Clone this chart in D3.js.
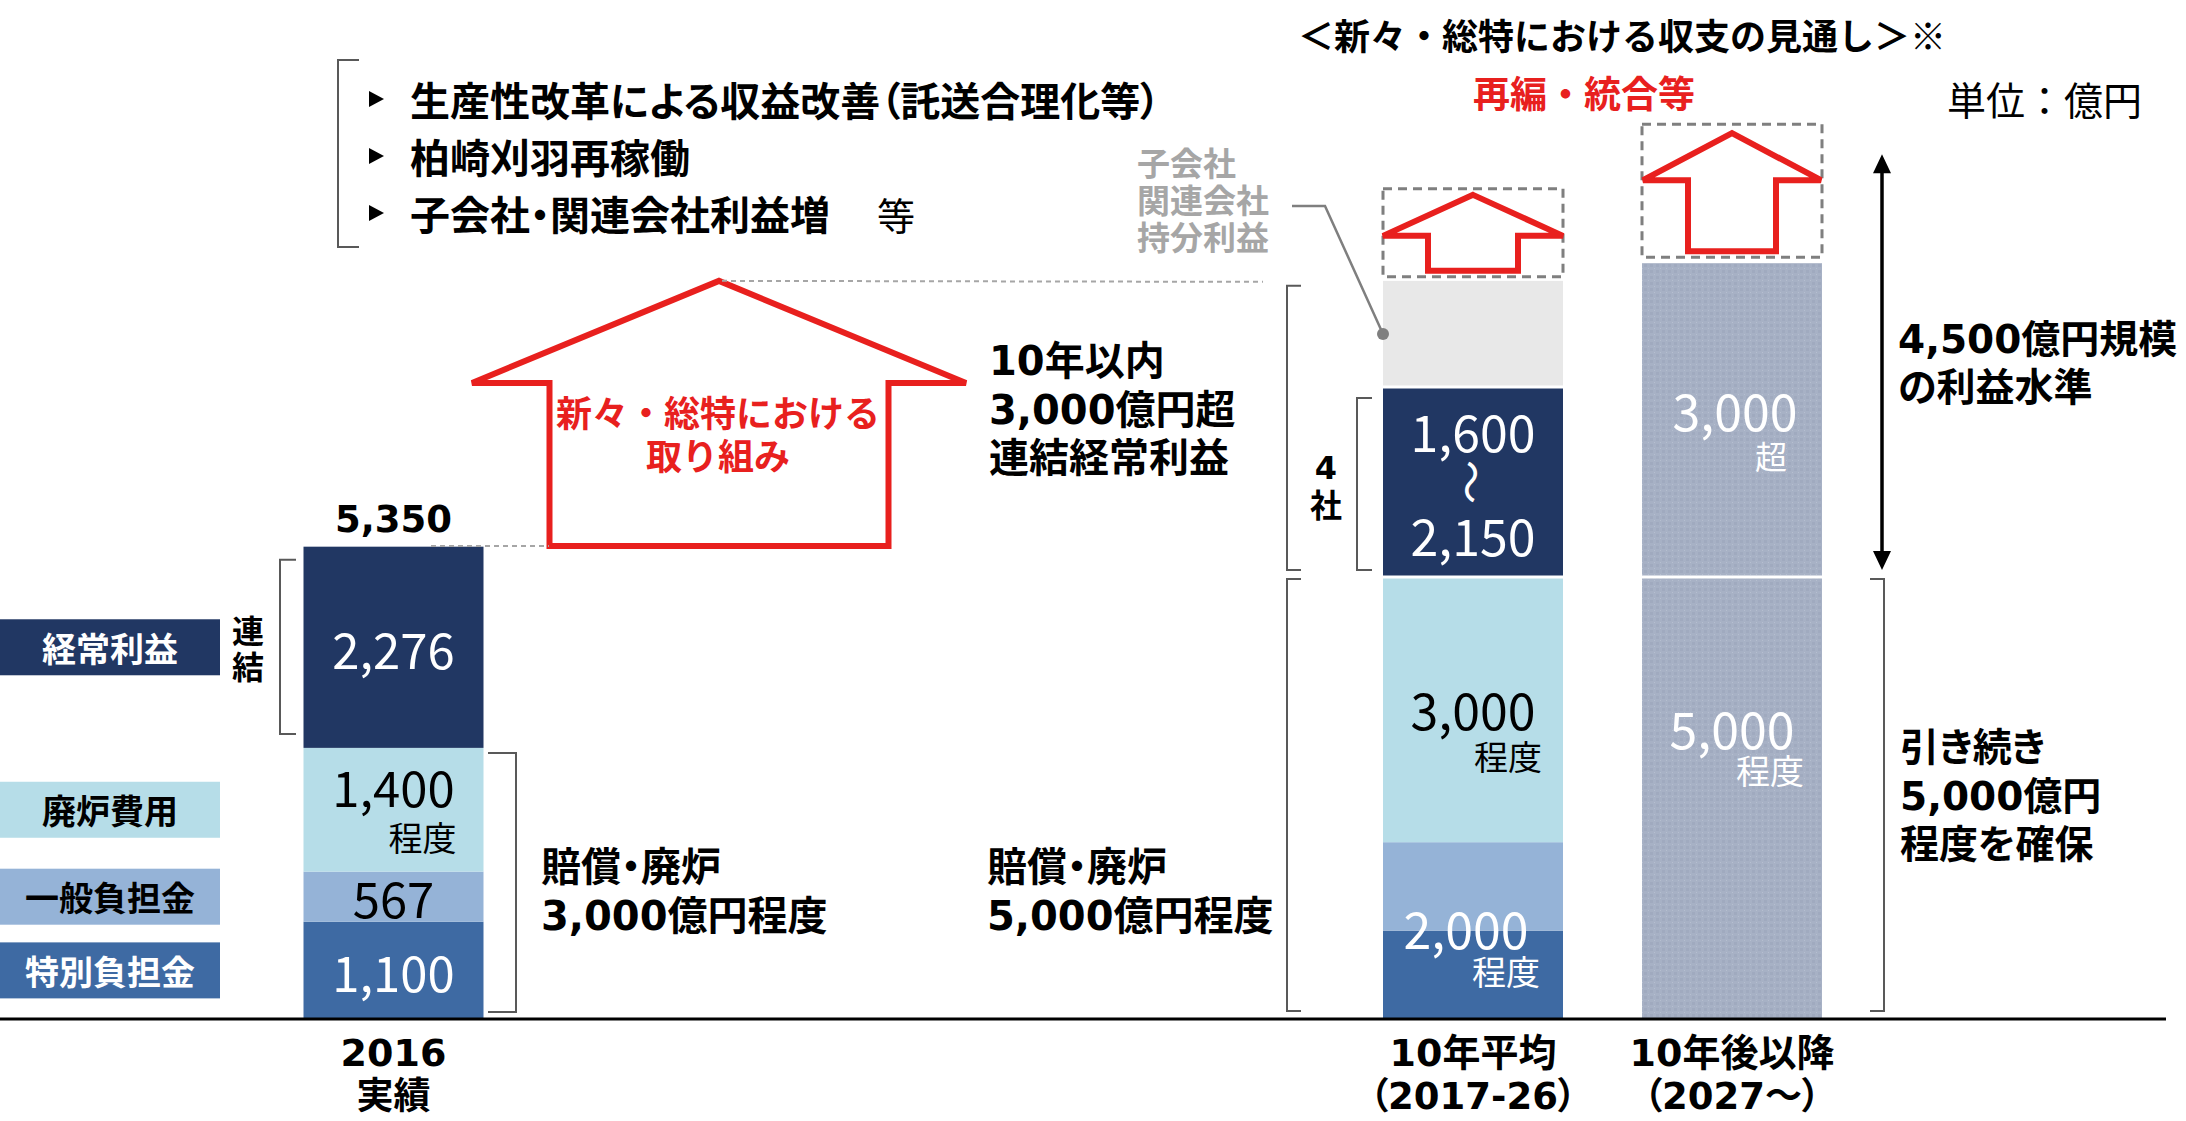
<!DOCTYPE html>
<html>
<head>
<meta charset="utf-8">
<script src="https://cdn.jsdelivr.net/npm/d3@7"></script>
<style>
  body { margin: 0; background: #fff; }
  svg { display: block; font-family: "Noto Sans CJK JP", "Noto Sans", sans-serif; }
  .lat { font-family: "DejaVu Sans", "Noto Sans CJK JP", sans-serif; }
  .palt { font-feature-settings: "palt"; }
</style>
</head>
<body>
<svg id="chart" width="2186" height="1121"></svg>
<script>
// ---- data (億円) ----
const categories = ["2016", "10年平均", "10年後以降"];
const categorySub = ["実績", "（2017-26）", "（2027～）"];

const segments2016 = ["特別負担金", "一般負担金", "廃炉費用", "経常利益"];
const values2016 = [1100, 567, 1400, 2276];
const total2016 = 5350;

// 10年平均: 2,000程度 (特別+一般, split by eye), 3,000程度, 4社 1,600～2,150, 持分利益 (no label, estimated)
const segmentsAvg = ["特別負担金", "一般負担金", "廃炉費用", "経常利益", "持分利益"];
const valuesAvg = [1000, 1000, 3000, 2150, 1200];
const avgRange = ["1,600", "2,150"];

// 10年後以降: 5,000程度 / 3,000超 (height)
const segmentsAfter = ["賠償・廃炉", "利益"];
const valuesAfter = [5000, 3550];

const bulletItems = ["生産性改革による収益改善（託送合理化等）", "柏崎刈羽再稼働", "子会社・関連会社利益増"];

// ---- setup ----
const svg = d3.select("#chart");
const y = d3.scaleLinear().domain([0, 10000]).range([1019, 135]);
const x = d3.scaleOrdinal().domain(categories).range([393.5, 1473, 1732]);
const barW = 180;
const red = "#e8201e";

const fill = d3.scaleOrdinal()
  .domain(["特別負担金", "一般負担金", "廃炉費用", "経常利益", "持分利益", "賠償・廃炉", "利益"])
  .range(["#3e6aa3", "#95b3d7", "#b6dde8", "#213763", "#e8e8e8", "url(#tex)", "url(#tex)"]);

const defs = svg.append("defs");
const pat = defs.append("pattern").attr("id", "tex")
  .attr("width", 6).attr("height", 6).attr("patternUnits", "userSpaceOnUse");
pat.append("rect").attr("width", 6).attr("height", 6).attr("fill", "#a7b1c5");
pat.append("rect").attr("width", 3).attr("height", 3).attr("fill", "#a0aabf");
pat.append("rect").attr("x", 4).attr("y", 4).attr("width", 1).attr("height", 1).attr("fill", "#b6bfd0");

const bars = [
  { cat: categories[0], keys: segments2016, values: values2016, sep: [] },
  { cat: categories[1], keys: segmentsAvg, values: valuesAvg, sep: [2, 3] },
  { cat: categories[2], keys: segmentsAfter, values: valuesAfter, sep: [0] }
];

// stacked extents
bars.forEach(b => {
  const ends = d3.cumsum(b.values);
  b.lo = b.values.map((v, i) => i ? ends[i - 1] : 0);
  b.hi = Array.from(ends);
  b.top = ends[ends.length - 1];
});
function mid(b, i0, i1) { return (y(b.lo[i0]) + y(b.hi[i1])) / 2; }

// ---- bars ----
bars.forEach(b => {
  const cx = x(b.cat);
  svg.append("g").selectAll("rect")
    .data(b.values)
    .join("rect")
    .attr("x", cx - barW / 2)
    .attr("y", (d, i) => y(b.hi[i]))
    .attr("width", barW)
    .attr("height", (d, i) => y(b.lo[i]) - y(b.hi[i]))
    .attr("fill", (d, i) => fill(b.keys[i]));
  b.sep.forEach(i => {
    svg.append("line")
      .attr("x1", cx - barW / 2).attr("x2", cx + barW / 2)
      .attr("y1", y(b.hi[i])).attr("y2", y(b.hi[i]))
      .attr("stroke", "#fff").attr("stroke-width", 3);
  });
});

// baseline
svg.append("line").attr("x1", 0).attr("x2", 2166).attr("y1", y(0)).attr("y2", y(0))
  .attr("stroke", "#000").attr("stroke-width", 3);

// ---- helpers ----
function txt(s, tx, ty, o = {}) {
  return svg.append("text")
    .attr("class", o.cls || null)
    .attr("x", tx).attr("y", ty)
    .attr("text-anchor", o.anchor || "start")
    .attr("dominant-baseline", "central")
    .attr("font-size", o.size || 40)
    .attr("font-weight", o.weight || 700)
    .attr("fill", o.color || "#000")
    .text(s);
}
function bracket(bx, y0, y1, len) {
  svg.append("path")
    .attr("d", `M${bx + len},${y0}H${bx}V${y1}H${bx + len}`)
    .attr("fill", "none").attr("stroke", "#595959").attr("stroke-width", 2);
}
function upArrow(cx, tipY, headY, botY, halfW, halfS, sw) {
  svg.append("path")
    .attr("d", `M${cx},${tipY}L${cx + halfW},${headY}H${cx + halfS}V${botY}H${cx - halfS}V${headY}H${cx - halfW}Z`)
    .attr("fill", "#fff").attr("stroke", red).attr("stroke-width", sw).attr("stroke-linejoin", "miter");
}
const L = "lat palt";

// ---- legend boxes (left) ----
const b16 = bars[0];
segments2016.forEach((k, i) => {
  const cy = mid(b16, i, i);
  svg.append("rect").attr("x", 0).attr("y", cy - 28).attr("width", 220).attr("height", 56).attr("fill", fill(k));
  const dark = (k === "経常利益" || k === "特別負担金");
  txt(k, 110, cy, { anchor: "middle", size: 34, color: dark ? "#fff" : "#000" });
});

// ---- 2016 bar labels ----
const c16 = x(categories[0]);
txt("2,276", c16, mid(b16, 3, 3), { anchor: "middle", size: 49, weight: 400, color: "#fff" });
txt("1,400", c16, mid(b16, 2, 2) - 24, { anchor: "middle", size: 49, weight: 400 });
txt("程度", c16 + 63, mid(b16, 2, 2) + 27, { anchor: "end", size: 34, weight: 400 });
txt("567", c16, mid(b16, 1, 1), { anchor: "middle", size: 49, weight: 400 });
txt("1,100", c16, mid(b16, 0, 0), { anchor: "middle", size: 49, weight: 400, color: "#fff" });
txt(d3.format(",")(total2016), c16, y(total2016) - 27, { anchor: "middle", size: 37, cls: "lat" });

// 連結 bracket
bracket(280, y(b16.hi[3]) + 13, y(b16.lo[3]) - 14, 16);
txt("連", 248, mid(b16, 3, 3) - 18, { anchor: "middle", size: 32 });
txt("結", 248, mid(b16, 3, 3) + 18, { anchor: "middle", size: 32 });
// 賠償・廃炉 bracket (2016)
bracket(516, y(b16.hi[2]) + 5, y(0) - 7, -28);
txt("賠償・廃炉", 541, 867, { cls: L });
txt("3,000億円程度", 541, 916, { cls: L });

// ---- big arrow ----
const bAvg = bars[1];
const avgTop = y(bAvg.top);
upArrow(719, avgTop, 383, y(total2016), 247, 169.5, 6);
txt("新々・総特における", 718, 411, { anchor: "middle", size: 36, color: red });
txt("取り組み", 718, 454, { anchor: "middle", size: 36, color: red });
svg.append("line").attr("x1", 431).attr("x2", 549).attr("y1", y(total2016)).attr("y2", y(total2016))
  .attr("stroke", "#a6a6a6").attr("stroke-width", 2).attr("stroke-dasharray", "5,4");
svg.append("line").attr("x1", 722).attr("x2", 1263).attr("y1", avgTop).attr("y2", avgTop + 1)
  .attr("stroke", "#a6a6a6").attr("stroke-width", 2).attr("stroke-dasharray", "5,4");

txt("10年以内", 989, 361, { cls: L });
txt("3,000億円超", 989, 410, { cls: L });
txt("連結経常利益", 989, 458, { cls: L });
txt("賠償・廃炉", 987, 867, { cls: L });
txt("5,000億円程度", 987, 916, { cls: L });

// ---- bullets ----
bracket(338, 60, 247, 21);
bulletItems.forEach((s, i) => {
  const cy = 99 + i * 57;
  svg.append("path").attr("d", `M369,${cy - 8}L384,${cy}L369,${cy + 8}Z`).attr("fill", "#000");
  txt(s, 410, cy, { size: 40, cls: "palt" });
});
txt("等", 877, 213, { size: 38, weight: 400 });

// ---- 10年平均 bar labels ----
const cAvg = x(categories[1]);
const navyMid = mid(bAvg, 3, 3);
txt(avgRange[0], cAvg, navyMid - 52, { anchor: "middle", size: 50, weight: 400, color: "#fff" });
txt("～", cAvg, navyMid, { anchor: "middle", size: 44, weight: 400, color: "#fff" })
  .attr("transform", `rotate(90,${cAvg},${navyMid})`);
txt(avgRange[1], cAvg, navyMid + 52, { anchor: "middle", size: 50, weight: 400, color: "#fff" });
txt("3,000", cAvg, mid(bAvg, 2, 2) - 2, { anchor: "middle", size: 50, weight: 400 });
txt("程度", cAvg + 69, mid(bAvg, 2, 2) + 46, { anchor: "end", size: 34, weight: 400 });
txt("2,000", cAvg - 7, mid(bAvg, 0, 1) - 4, { anchor: "middle", size: 50, weight: 400, color: "#fff" });
txt("程度", cAvg + 67, mid(bAvg, 0, 1) + 40, { anchor: "end", size: 34, weight: 400, color: "#fff" });

// brackets around 10年平均
bracket(1287, avgTop + 5, y(5000) - 7, 14);
bracket(1287, y(5000) + 2, y(0) - 8, 14);
bracket(1357, y(bAvg.hi[3]) + 11, y(5000) - 7, 15);
txt("4", 1326, navyMid - 14, { anchor: "middle", size: 32, cls: "lat" });
txt("社", 1326, navyMid + 21, { anchor: "middle", size: 32 });

// 持分利益 callout
["子会社", "関連会社", "持分利益"].forEach((s, i) => {
  txt(s, 1137, 162 + i * 37, { size: 33, color: "#a6a6a6" });
});
const grayMid = mid(bAvg, 4, 4);
svg.append("path").attr("d", `M1292,206H1325L${cAvg - barW / 2},${grayMid}`)
  .attr("fill", "none").attr("stroke", "#7f7f7f").attr("stroke-width", 2.5);
svg.append("circle").attr("cx", cAvg - barW / 2).attr("cy", grayMid).attr("r", 6).attr("fill", "#7f7f7f");

// dashed box + arrow above 10年平均
const boxA = { top: avgTop - 4 - 88, bot: avgTop - 4 };
svg.append("rect").attr("x", cAvg - barW / 2).attr("y", boxA.top).attr("width", barW).attr("height", boxA.bot - boxA.top)
  .attr("fill", "none").attr("stroke", "#7f7f7f").attr("stroke-width", 3).attr("stroke-dasharray", "9,6");
upArrow(cAvg, boxA.top + 6, boxA.top + 47, boxA.bot - 6, 90, 45, 6);

// ---- 10年後以降 bar ----
const bAft = bars[2];
const cAft = x(categories[2]);
const aftTop = y(bAft.top);
txt("3,000", cAft + 3, mid(bAft, 1, 1) - 11, { anchor: "middle", size: 50, weight: 400, color: "#fff" });
txt("超", cAft + 55, mid(bAft, 1, 1) + 35, { anchor: "end", size: 32, weight: 400, color: "#fff" });
txt("5,000", cAft, mid(bAft, 0, 0) - 71, { anchor: "middle", size: 50, weight: 400, color: "#fff" });
txt("程度", cAft + 72, mid(bAft, 0, 0) - 29, { anchor: "end", size: 34, weight: 400, color: "#fff" });

const boxR = { top: aftTop - 6 - 133, bot: aftTop - 6 };
svg.append("rect").attr("x", cAft - barW / 2).attr("y", boxR.top).attr("width", barW).attr("height", boxR.bot - boxR.top)
  .attr("fill", "none").attr("stroke", "#7f7f7f").attr("stroke-width", 3).attr("stroke-dasharray", "9,6");
upArrow(cAft, boxR.top + 9, boxR.top + 56, boxR.bot - 6, 89, 44, 6);

// double arrow
const daTop = boxR.top + 30, daBot = y(5000) - 7;
svg.append("line").attr("x1", 1882).attr("x2", 1882).attr("y1", daTop + 14).attr("y2", daBot - 14)
  .attr("stroke", "#000").attr("stroke-width", 3.5);
svg.append("path").attr("d", `M1882,${daTop}L1891,${daTop + 19}H1873Z M1882,${daBot}L1891,${daBot - 19}H1873Z`).attr("fill", "#000");
txt("4,500億円規模", 1898, 339, { size: 39, cls: L });
txt("の利益水準", 1898, 387, { size: 39, cls: L });

bracket(1884, y(5000) + 2, y(0) - 8, -14);
txt("引き続き", 1900, 747, { size: 39, cls: L });
txt("5,000億円", 1900, 796, { size: 39, cls: L });
txt("程度を確保", 1900, 844, { size: 39, cls: L });

// ---- titles ----
txt("＜新々・総特における収支の見通し＞※", 1298, 34, { size: 36 });
txt("再編・統合等", 1584, 92, { anchor: "middle", size: 37, color: red });
txt("単位：億円", 1947, 98, { size: 39, weight: 400 });

// ---- category labels ----
categories.forEach((c, i) => {
  txt(c, x(c), 1053, { anchor: "middle", size: 38, cls: L });
  txt(categorySub[i], x(c), 1096, { anchor: "middle", size: 37, cls: L });
});
</script>
</body>
</html>
